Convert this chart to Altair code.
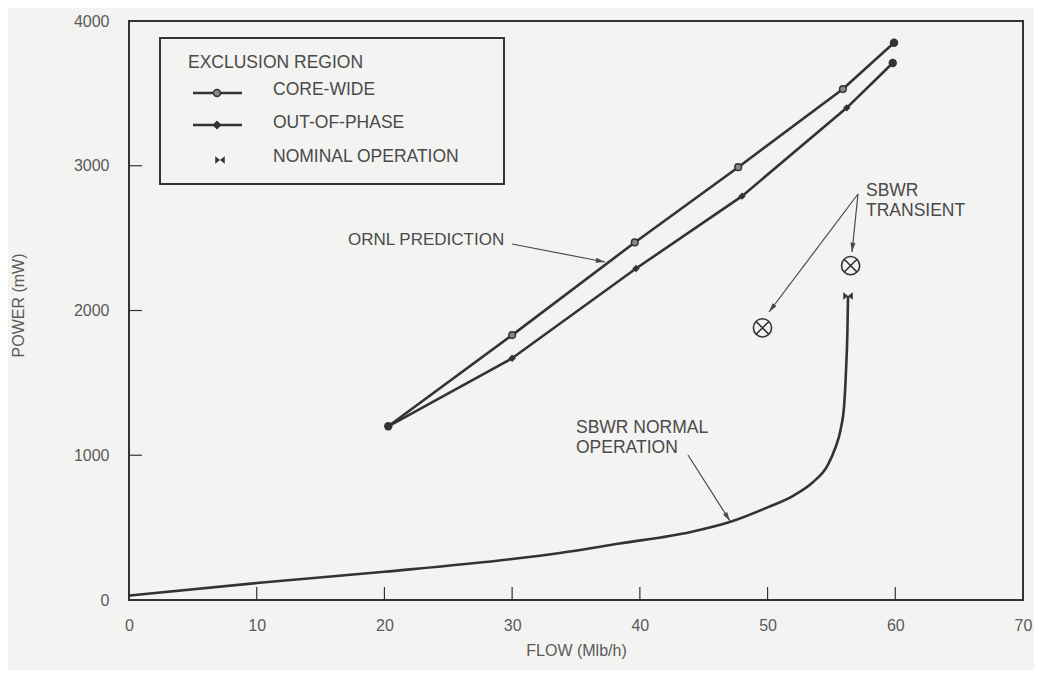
import math
import altair as alt
import pandas as pd

# ---------------- data ----------------
core_flow = [20.3, 30.0, 39.6, 47.7, 55.9, 59.9]
core_power = [1200, 1830, 2470, 2990, 3530, 3850]

oop_flow = [20.3, 30.0, 39.7, 48.0, 56.2, 59.8]
oop_power = [1200, 1670, 2290, 2790, 3400, 3710]

normal_flow = [0, 10, 20, 30, 33.75, 38.4, 44, 47.1, 50, 52, 53.5, 54.7, 55.3, 55.7, 56.0, 56.15, 56.25, 56.3]
normal_power = [30, 117, 195, 283, 325, 390, 470, 540, 640, 720, 810, 930, 1050, 1170, 1350, 1600, 1850, 2100]

nominal_flow = [56.3]
nominal_power = [2100]

transient_flow = [49.6, 56.5]
transient_power = [1880, 2310]

x_ticks = [0, 10, 20, 30, 40, 50, 60, 70]
y_ticks = [0, 1000, 2000, 3000, 4000]
x_inner_ticks = [10, 20, 30, 40, 50, 60]
y_inner_ticks = [1000, 2000, 3000]

# ---------------- style ----------------
BG = "#f3f3f1"
INK = "#333333"
TXT = "#4a4a4a"
LAB = "#5a5a5a"
FONT = "Liberation Sans"
FS = 17.5
W, H = 894, 579

xs = alt.Scale(domain=[0, 70], nice=False, zero=False)
ys = alt.Scale(domain=[0, 4000], nice=False, zero=False)
xaxis = alt.Axis(values=x_ticks, title="FLOW (Mlb/h)", labelPadding=17, labelFlush=False,
                 labelOverlap=False, titleY=50, titleBaseline="middle")
yaxis = alt.Axis(values=y_ticks, format="d", title="POWER (mW)", labelPadding=20,
                 labelFlush=False, labelOverlap=False, titleX=-111, titleY=284,
                 titleAngle=270, titleAlign="center", titleBaseline="middle")


def X(f="flow"):
    return alt.X(f"{f}:Q", scale=xs, axis=xaxis)


def Y(f="power"):
    return alt.Y(f"{f}:Q", scale=ys, axis=yaxis)


df_core = pd.DataFrame({"flow": core_flow, "power": core_power})
df_oop = pd.DataFrame({"flow": oop_flow, "power": oop_power})
df_norm = pd.DataFrame({"flow": normal_flow, "power": normal_power})
df_nom = pd.DataFrame({"flow": nominal_flow, "power": nominal_power})
df_tr = pd.DataFrame({"flow": transient_flow, "power": transient_power})
df_core_mid = df_core.iloc[1:-1]
df_oop_mid = df_oop.iloc[1:-1]
df_ends = pd.concat([df_core.iloc[[0, -1]], df_oop.iloc[[-1]]])

layers = []

# normal operation curve
layers.append(alt.Chart(df_norm).mark_line(color=INK, strokeWidth=2.6, interpolate="monotone")
              .encode(x=X(), y=Y()))
# exclusion region lines
layers.append(alt.Chart(df_core).mark_line(color=INK, strokeWidth=2.6).encode(x=X(), y=Y()))
layers.append(alt.Chart(df_oop).mark_line(color=INK, strokeWidth=2.6).encode(x=X(), y=Y()))
layers.append(alt.Chart(df_core_mid).mark_point(shape="circle", filled=True, fill="#888888",
                                                stroke=INK, strokeWidth=1.5, size=45, opacity=1)
              .encode(x=X(), y=Y()))
layers.append(alt.Chart(df_oop_mid).mark_point(shape="diamond", filled=True, color=INK,
                                               size=55, opacity=1)
              .encode(x=X(), y=Y()))
layers.append(alt.Chart(df_ends).mark_point(shape="circle", filled=True, color=INK,
                                            size=70, opacity=1)
              .encode(x=X(), y=Y()))

BOWTIE = "M-1,-0.8L1,0.8L1,-0.8L-1,0.8Z"
OTIMES = "M1,0A1,1,0,1,1,-1,0A1,1,0,1,1,1,0M-0.7,-0.7L0.7,0.7M-0.7,0.7L0.7,-0.7"

layers.append(alt.Chart(df_nom).mark_point(shape=BOWTIE, filled=True, color=INK, size=90,
                                           opacity=1)
              .encode(x=X(), y=Y()))
layers.append(alt.Chart(df_tr).mark_point(shape=OTIMES, filled=False, color=INK, size=330,
                                          strokeWidth=1.6, opacity=1)
              .encode(x=X(), y=Y()))

# inward tick marks
layers.append(alt.Chart(pd.DataFrame({"flow": x_inner_ticks})).mark_rule(color=INK, strokeWidth=1.2)
              .encode(x=X(), y=alt.value(H), y2=alt.value(H - 13)))
layers.append(alt.Chart(pd.DataFrame({"power": y_inner_ticks})).mark_rule(color=INK, strokeWidth=1.2)
              .encode(y=Y(), x=alt.value(0), x2=alt.value(13)))

one = alt.Data(values=[{"k": 0}])


def text(s, x, y, size=FS, align="left"):
    return alt.Chart(one).mark_text(text=s, font=FONT, fontSize=size, color=TXT, align=align,
                                    baseline="middle").encode(x=alt.value(x), y=alt.value(y))


def arrow(x1, y1, x2, y2):
    ang = math.degrees(math.atan2(x2 - x1, -(y2 - y1))) % 360
    line = alt.Chart(one).mark_rule(color=TXT, strokeWidth=1.2).encode(
        x=alt.value(x1), y=alt.value(y1), x2=alt.value(x2), y2=alt.value(y2))
    head = alt.Chart(one).mark_point(shape="M0,0L-0.6,2.2L0.6,2.2Z", filled=True, color=TXT,
                                     size=70, angle=ang, opacity=1).encode(
        x=alt.value(x2), y=alt.value(y2))
    return [line, head]


# annotations (pixel offsets inside the plot area)
layers.append(text("ORNL PREDICTION", 219, 219, size=17))
layers += arrow(383, 223, 476, 241)
layers.append(text("SBWR", 737, 170))
layers.append(text("TRANSIENT", 737, 190))
layers += arrow(729, 173, 723, 231)
layers += arrow(729, 173, 640, 291)
layers.append(text("SBWR NORMAL", 447, 407))
layers.append(text("OPERATION", 447, 427))
layers += arrow(559, 434, 601, 500)

# legend box
layers.append(alt.Chart(one).mark_rect(fill=BG, stroke=INK, strokeWidth=2).encode(
    x=alt.value(31), x2=alt.value(375), y=alt.value(17), y2=alt.value(163)))
layers.append(text("EXCLUSION REGION", 59, 42))
layers.append(text("CORE-WIDE", 144, 69))
layers.append(text("OUT-OF-PHASE", 144, 102))
layers.append(text("NOMINAL OPERATION", 144, 136))
for yy, shp, fill in [(72, "circle", "#888888"), (104, "diamond", INK)]:
    layers.append(alt.Chart(one).mark_rule(color=INK, strokeWidth=2.6).encode(
        x=alt.value(64), x2=alt.value(113), y=alt.value(yy)))
    layers.append(alt.Chart(one).mark_point(shape=shp, filled=True, fill=fill, stroke=INK,
                                            strokeWidth=1.5, size=50, opacity=1).encode(
        x=alt.value(88), y=alt.value(yy)))
layers.append(alt.Chart(one).mark_point(shape=BOWTIE, filled=True, color=INK, size=90,
                                        opacity=1).encode(x=alt.value(91), y=alt.value(139)))

chart = (
    alt.layer(*layers)
    .properties(width=W, height=H, background=BG,
                padding={"left": 121, "top": 13, "right": 11, "bottom": 70},
                autosize=alt.AutoSizeParams(type="none"))
    .configure_view(stroke=INK, strokeWidth=2)
    .configure_axis(domain=False, ticks=False, grid=False, labelFont=FONT, labelFontSize=16,
                    labelColor=LAB, titleFont=FONT, titleFontSize=16, titleColor=LAB,
                    titleFontWeight="normal")
)

chart.save("out.html", embed_options={"renderer": "svg", "actions": False})
